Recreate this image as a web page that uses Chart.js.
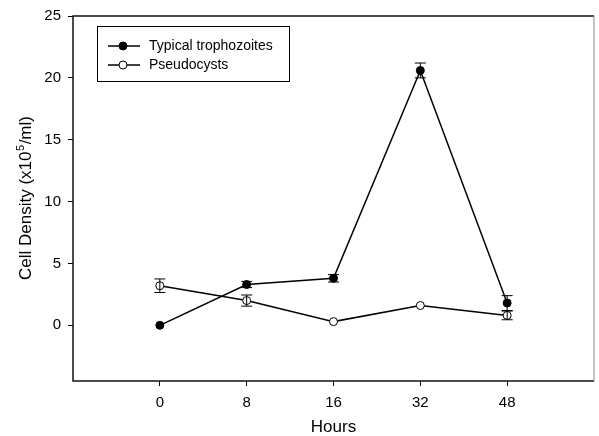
<!DOCTYPE html>
<html>
<head>
<meta charset="utf-8">
<script src="https://cdn.jsdelivr.net/npm/chart.js@4/dist/chart.umd.min.js"></script>
<style>
  html, body { margin: 0; padding: 0; background: #fff; }
  #wrap { width: 599px; height: 436px; }
</style>
</head>
<body>
<div id="wrap"><canvas id="c" width="599" height="436"></canvas></div>
<script>
// ---- data ----
const hours = ['0', '8', '16', '32', '48'];
const typical = [0, 3.3, 3.8, 20.6, 1.8];
const typicalErr = [0, 0.25, 0.3, 0.6, 0.6];
const pseudo = [3.2, 2.0, 0.3, 1.6, 0.8];
const pseudoErr = [0.55, 0.45, 0, 0, 0.35];
const yTicks = [0, 5, 10, 15, 20, 25];
const seriesNames = ['Typical trophozoites', 'Pseudocysts'];
const yTitle = ['Cell Density (x10', '5', '/ml)'];
const xTitle = 'Hours';

const FONT = 'Liberation Sans, Arial, sans-serif';

const toPts = arr => arr.map((v, i) => ({ x: i, y: v }));

const errBars = {
  id: 'errBars',
  afterDatasetsDraw(chart) {
    const ctx = chart.ctx;
    const xs = chart.scales.x, ys = chart.scales.y;
    const sets = [[typical, typicalErr], [pseudo, pseudoErr]];
    ctx.save();
    ctx.strokeStyle = '#000';
    ctx.lineWidth = 1;
    sets.forEach(([vals, errs]) => {
      vals.forEach((v, i) => {
        const e = errs[i];
        if (!e) return;
        const px = xs.getPixelForValue(i);
        const top = ys.getPixelForValue(v + e);
        const bot = ys.getPixelForValue(v - e);
        ctx.beginPath();
        ctx.moveTo(px, top); ctx.lineTo(px, bot);
        ctx.moveTo(px - 5.5, top); ctx.lineTo(px + 5.5, top);
        ctx.moveTo(px - 5.5, bot); ctx.lineTo(px + 5.5, bot);
        ctx.stroke();
      });
    });
    ctx.restore();
  }
};

const frameAndText = {
  id: 'frameAndText',
  afterDraw(chart) {
    const ctx = chart.ctx;
    const a = chart.chartArea;
    ctx.save();
    // frame
    ctx.strokeStyle = '#111';
    ctx.lineWidth = 1.5;
    ctx.beginPath();
    ctx.moveTo(a.right, a.top); ctx.lineTo(a.left, a.top); ctx.lineTo(a.left, a.bottom); ctx.lineTo(a.right, a.bottom);
    ctx.stroke();
    ctx.strokeStyle = '#888';
    ctx.lineWidth = 1;
    ctx.beginPath();
    ctx.moveTo(a.right, a.top); ctx.lineTo(a.right, a.bottom);
    ctx.stroke();

    // legend
    const lx = a.left + 24, ly = a.top + 10, lw = 192, lh = 55;
    ctx.lineWidth = 1;
    ctx.strokeStyle = '#000';
    ctx.fillStyle = '#fff';
    ctx.fillRect(lx, ly, lw, lh);
    ctx.strokeRect(lx + 0.5, ly + 0.5, lw, lh);
    const rows = [ly + 20, ly + 39];
    rows.forEach((ry, k) => {
      ctx.beginPath();
      ctx.moveTo(lx + 11, ry); ctx.lineTo(lx + 43, ry);
      ctx.lineWidth = 1.5;
      ctx.stroke();
      ctx.beginPath();
      ctx.arc(lx + 26, ry, 4, 0, Math.PI * 2);
      ctx.fillStyle = k === 0 ? '#000' : '#fff';
      ctx.fill();
      ctx.lineWidth = 1;
      ctx.stroke();
      ctx.fillStyle = '#000';
      ctx.font = '14px ' + FONT;
      ctx.textBaseline = 'middle';
      ctx.textAlign = 'left';
      ctx.fillText(seriesNames[k], lx + 52, ry);
    });

    // y title with superscript
    ctx.translate(31, (a.top + a.bottom) / 2);
    ctx.rotate(-Math.PI / 2);
    ctx.textBaseline = 'alphabetic';
    ctx.textAlign = 'left';
    ctx.font = '17px ' + FONT;
    const w0 = ctx.measureText(yTitle[0]).width;
    ctx.font = '11px ' + FONT;
    const w1 = ctx.measureText(yTitle[1]).width;
    ctx.font = '17px ' + FONT;
    const w2 = ctx.measureText(yTitle[2]).width;
    let x0 = -(w0 + w1 + w2) / 2;
    ctx.fillStyle = '#000';
    ctx.fillText(yTitle[0], x0, 0);
    ctx.font = '11px ' + FONT;
    ctx.fillText(yTitle[1], x0 + w0 + 0.5, -7);
    ctx.font = '17px ' + FONT;
    ctx.fillText(yTitle[2], x0 + w0 + w1 + 1, 0);
    ctx.restore();
  }
};

new Chart(document.getElementById('c'), {
  type: 'line',
  data: {
    datasets: [
      {
        label: seriesNames[0],
        data: toPts(typical),
        borderColor: '#000',
        borderWidth: 1.5,
        pointRadius: 4,
        pointBackgroundColor: '#000',
        pointBorderColor: '#000',
        pointBorderWidth: 1,
        tension: 0
      },
      {
        label: seriesNames[1],
        data: toPts(pseudo),
        borderColor: '#000',
        borderWidth: 1.5,
        pointRadius: 4,
        pointBackgroundColor: '#fff',
        pointBorderColor: '#000',
        pointBorderWidth: 1,
        tension: 0
      }
    ]
  },
  options: {
    responsive: false,
    animation: false,
    events: [],
    layout: { padding: { left: 0, right: 1, top: 13, bottom: 0 } },
    plugins: {
      legend: { display: false },
      tooltip: { enabled: false }
    },
    scales: {
      x: {
        type: 'linear',
        min: -1,
        max: 5,
        afterBuildTicks: s => { s.ticks = hours.map((_, i) => ({ value: i })); },
        afterFit: s => { s.height = 55; },
        grid: { drawOnChartArea: false, drawTicks: true, tickLength: 5, color: '#000', lineWidth: 1 },
        border: { display: false },
        ticks: {
          color: '#000',
          font: { family: FONT, size: 15 },
          padding: 8,
          maxRotation: 0,
          callback: v => hours[v] ?? ''
        },
        title: {
          display: true,
          text: xTitle,
          color: '#000',
          font: { family: FONT, size: 17, lineHeight: 1 },
          padding: { top: 0, bottom: 0 }
        }
      },
      y: {
        type: 'linear',
        min: -4.5,
        max: 25,
        afterBuildTicks: s => { s.ticks = yTicks.map(v => ({ value: v })); },
        afterFit: s => { s.width = 73; },
        grid: { drawOnChartArea: false, drawTicks: true, tickLength: 5, color: '#000', lineWidth: 1 },
        border: { display: false },
        ticks: {
          color: '#000',
          font: { family: FONT, size: 15 },
          padding: 7
        }
      }
    }
  },
  plugins: [errBars, frameAndText]
});
</script>
</body>
</html>
